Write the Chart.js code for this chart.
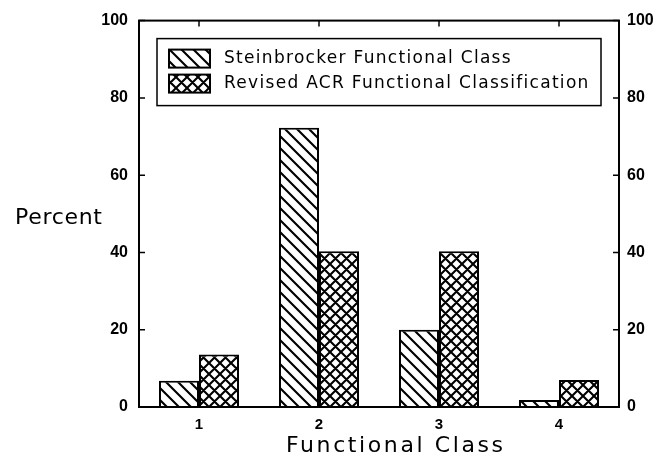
<!DOCTYPE html>
<html>
<head>
<meta charset="utf-8">
<script src="https://cdn.jsdelivr.net/npm/chart.js@4.4.0/dist/chart.umd.min.js"></script>
<style>
  html, body { margin: 0; padding: 0; background: #fff; }
  #wrap { width: 665px; height: 459px; }
</style>
</head>
<body>
<div id="wrap"><canvas id="myChart" width="665" height="459"></canvas></div>
<script>
// data
var categories = ['1', '2', '3', '4'];
var steinbrocker = [6.8, 72.3, 20, 1.8];
var revisedAcr = [13.6, 40.3, 40.3, 7];
var seriesNames = ['Steinbrocker Functional Class', 'Revised ACR Functional Classification'];
var yTicks = [0, 20, 40, 60, 80, 100];

var tickFont = { family: 'Liberation Sans', size: 16, weight: 'bold' };

function makePattern(cross, s) {
  var c = document.createElement('canvas');
  c.width = s; c.height = s;
  var g = c.getContext('2d');
  g.fillStyle = '#fff';
  g.fillRect(0, 0, s, s);
  g.strokeStyle = '#000';
  g.lineWidth = 2.1;
  g.beginPath();
  g.moveTo(-1, -1); g.lineTo(s + 1, s + 1);
  g.moveTo(-1, s - 1); g.lineTo(1, s + 1);
  g.moveTo(s - 1, -1); g.lineTo(s + 1, 1);
  if (cross) {
    g.moveTo(s + 1, -1); g.lineTo(-1, s + 1);
    g.moveTo(-1, 1); g.lineTo(1, -1);
    g.moveTo(s - 1, s + 1); g.lineTo(s + 1, s - 1);
  }
  g.stroke();
  return g.createPattern(c, 'repeat');
}
var hatch = makePattern(false, 12);
var crossHatch = makePattern(true, 11);

// frame, inward ticks, boxed legend and axis titles
var decor = {
  id: 'decor',
  afterDraw: function(chart) {
    var ctx = chart.ctx, a = chart.chartArea;
    var y = chart.scales.y, x = chart.scales.x;
    ctx.save();
    ctx.strokeStyle = '#000';
    ctx.lineWidth = 2;
    ctx.strokeRect(a.left, a.top, a.right - a.left, a.bottom - a.top);
    ctx.lineWidth = 1.5;
    yTicks.forEach(function(v) {
      var p = y.getPixelForValue(v);
      ctx.beginPath();
      ctx.moveTo(a.left, p); ctx.lineTo(a.left + 6, p);
      ctx.moveTo(a.right, p); ctx.lineTo(a.right - 6, p);
      ctx.stroke();
    });
    categories.forEach(function(c, i) {
      var p = x.getPixelForValue(i);
      ctx.beginPath();
      ctx.moveTo(p, a.top); ctx.lineTo(p, a.top + 6);
      ctx.stroke();
    });

    // legend box
    var lx = a.left + 18, ly = a.top + 18, lw = a.right - a.left - 36, lh = 67;
    ctx.lineWidth = 1.5;
    ctx.strokeRect(lx, ly, lw, lh);
    var pats = [hatch, crossHatch];
    ctx.font = '17px "DejaVu Sans"';
    ctx.letterSpacing = '1.3px';
    ctx.textBaseline = 'middle';
    ctx.textAlign = 'left';
    for (var i = 0; i < 2; i++) {
      var sy = ly + 11 + i * 25;
      ctx.fillStyle = pats[i];
      ctx.fillRect(lx + 12, sy, 41, 18);
      ctx.lineWidth = 2;
      ctx.strokeRect(lx + 12, sy, 41, 18);
      ctx.fillStyle = '#000';
      ctx.fillText(seriesNames[i], lx + 67, sy + 9);
    }

    ctx.font = '22px "DejaVu Sans"';
    ctx.letterSpacing = '0.7px';
    ctx.fillText('Percent', 15, 218);
    ctx.font = '22px "DejaVu Sans"';
    ctx.letterSpacing = '2.6px';
    ctx.fillText('Functional Class', 286, 446);
    ctx.restore();
  }
};

var ctx = document.getElementById('myChart');
var myChart = new Chart(ctx, {
  type: 'bar',
  data: {
    labels: categories,
    datasets: [{
      label: seriesNames[0],
      data: steinbrocker,
      backgroundColor: hatch,
      borderColor: '#000',
      borderWidth: 2,
      categoryPercentage: 0.667,
      barPercentage: 1.0
    }, {
      label: seriesNames[1],
      data: revisedAcr,
      backgroundColor: crossHatch,
      borderColor: '#000',
      borderWidth: 2,
      categoryPercentage: 0.667,
      barPercentage: 1.0
    }]
  },
  options: {
    responsive: false,
    animation: false,
    layout: { padding: { top: 19, left: 0, right: 0, bottom: 0 } },
    plugins: { legend: { display: false }, tooltip: { enabled: false } },
    scales: {
      x: {
        grid: { display: false, drawTicks: false },
        border: { display: false },
        ticks: { color: '#000', font: { family: 'Liberation Sans', size: 15, weight: 'bold' }, padding: 9 },
        afterFit: function(s) { s.height = 52; }
      },
      y: {
        min: 0, max: 100,
        afterBuildTicks: function(s) { s.ticks = yTicks.map(function(v) { return { value: v }; }); },
        grid: { display: false, drawTicks: false },
        border: { display: false },
        ticks: { color: '#000', font: tickFont, padding: 11 },
        afterFit: function(s) { s.width = 139; }
      },
      y2: {
        position: 'right',
        min: 0, max: 100,
        afterBuildTicks: function(s) { s.ticks = yTicks.map(function(v) { return { value: v }; }); },
        grid: { display: false, drawTicks: false },
        border: { display: false },
        ticks: { color: '#000', font: tickFont, padding: 8 },
        afterFit: function(s) { s.width = 46; }
      }
    }
  },
  plugins: [decor]
});
</script>
</body>
</html>
